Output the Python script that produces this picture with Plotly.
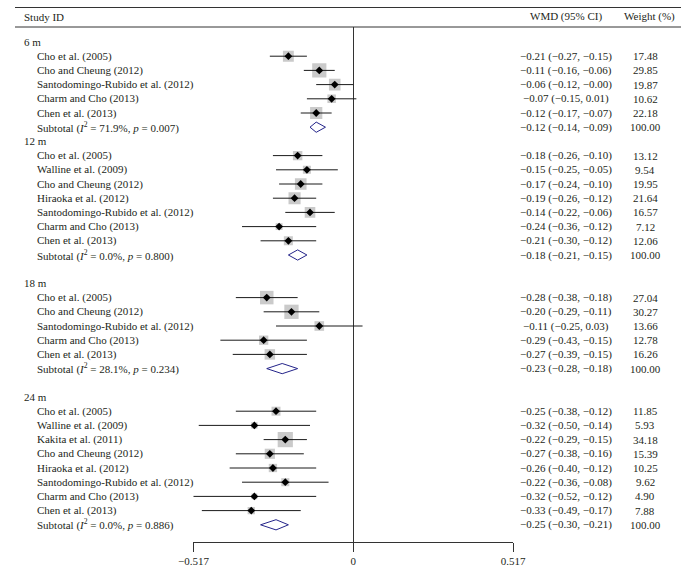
import plotly.graph_objects as go

# ---------------- data ----------------
groups = ["6 m", "12 m", "18 m", "24 m"]

studies_6m = ["Cho et al. (2005)", "Cho and Cheung (2012)", "Santodomingo-Rubido et al. (2012)",
              "Charm and Cho (2013)", "Chen et al. (2013)"]
est_6m = [-0.21, -0.11, -0.06, -0.07, -0.12]
lo_6m = [-0.27, -0.16, -0.12, -0.15, -0.17]
hi_6m = [-0.15, -0.06, -0.00, 0.01, -0.07]
wt_6m = [17.48, 29.85, 19.87, 10.62, 22.18]

studies_12m = ["Cho et al. (2005)", "Walline et al. (2009)", "Cho and Cheung (2012)", "Hiraoka et al. (2012)",
               "Santodomingo-Rubido et al. (2012)", "Charm and Cho (2013)", "Chen et al. (2013)"]
est_12m = [-0.18, -0.15, -0.17, -0.19, -0.14, -0.24, -0.21]
lo_12m = [-0.26, -0.25, -0.24, -0.26, -0.22, -0.36, -0.30]
hi_12m = [-0.10, -0.05, -0.10, -0.12, -0.06, -0.12, -0.12]
wt_12m = [13.12, 9.54, 19.95, 21.64, 16.57, 7.12, 12.06]

studies_18m = ["Cho et al. (2005)", "Cho and Cheung (2012)", "Santodomingo-Rubido et al. (2012)",
               "Charm and Cho (2013)", "Chen et al. (2013)"]
est_18m = [-0.28, -0.20, -0.11, -0.29, -0.27]
lo_18m = [-0.38, -0.29, -0.25, -0.43, -0.39]
hi_18m = [-0.18, -0.11, 0.03, -0.15, -0.15]
wt_18m = [27.04, 30.27, 13.66, 12.78, 16.26]

studies_24m = ["Cho et al. (2005)", "Walline et al. (2009)", "Kakita et al. (2011)", "Cho and Cheung (2012)",
               "Hiraoka et al. (2012)", "Santodomingo-Rubido et al. (2012)", "Charm and Cho (2013)",
               "Chen et al. (2013)"]
est_24m = [-0.25, -0.32, -0.22, -0.27, -0.26, -0.22, -0.32, -0.33]
lo_24m = [-0.38, -0.50, -0.29, -0.38, -0.40, -0.36, -0.52, -0.49]
hi_24m = [-0.12, -0.14, -0.15, -0.16, -0.12, -0.08, -0.12, -0.17]
wt_24m = [11.85, 5.93, 34.18, 15.39, 10.25, 9.62, 4.90, 7.88]

sub_i2 = ["71.9%", "0.0%", "28.1%", "0.0%"]
sub_p = ["0.007", "0.800", "0.234", "0.886"]
sub_est = [-0.12, -0.18, -0.23, -0.25]
sub_lo = [-0.14, -0.21, -0.28, -0.30]
sub_hi = [-0.09, -0.15, -0.18, -0.21]
sub_wt = [100.00, 100.00, 100.00, 100.00]

tick_vals = [-0.517, 0, 0.517]
tick_text = ["\u22120.517", "0", "0.517"]

# ---------------- layout helpers ----------------
W, H = 694, 577
FONT = "Liberation Serif, Times New Roman, serif"
TXT = "#231f20"
gap_after = [0, 1, 1, 0]

study_sets = [
    (studies_6m, est_6m, lo_6m, hi_6m, wt_6m),
    (studies_12m, est_12m, lo_12m, hi_12m, wt_12m),
    (studies_18m, est_18m, lo_18m, hi_18m, wt_18m),
    (studies_24m, est_24m, lo_24m, hi_24m, wt_24m),
]


def fmt(v):
    return f"{v:.2f}".replace("-", "\u2212")


y0_px, step_px = 42.0, 14.2
top_px, axis_px = 27.0, 542.0

rows_group = []      # (row, label)
rows_study = []      # (row, name, est, lo, hi, wt)
rows_sub = []        # (row, label, est, lo, hi, wt)
r = 0
for gi, g in enumerate(groups):
    rows_group.append((r, g))
    r += 1
    names, es, ls, hs, ws = study_sets[gi]
    for n, e, l, h, w in zip(names, es, ls, hs, ws):
        rows_study.append((r, n, e, l, h, w))
        r += 1
    lab = f"Subtotal (<i>I</i><sup>2</sup> = {sub_i2[gi]}, <i>p</i> = {sub_p[gi]})"
    rows_sub.append((r, lab, sub_est[gi], sub_lo[gi], sub_hi[gi], sub_wt[gi]))
    r += 1 + gap_after[gi]

r_top = (top_px - y0_px) / step_px
r_bot = (axis_px - y0_px) / step_px

fig = go.Figure()

# gray weight squares
fig.add_trace(go.Scatter(
    x=[s[2] for s in rows_study], y=[s[0] for s in rows_study], mode="markers",
    marker=dict(symbol="square", size=[2.6 * s[5] ** 0.5 for s in rows_study],
                color="#b3b3b3", line=dict(width=0)),
    hoverinfo="skip", showlegend=False))

# CI lines
cx, cy = [], []
for s in rows_study:
    cx += [s[3], s[4], None]
    cy += [s[0], s[0], None]
fig.add_trace(go.Scatter(x=cx, y=cy, mode="lines", line=dict(color="#1a1a1a", width=1),
                         hoverinfo="skip", showlegend=False))

# point estimates
fig.add_trace(go.Scatter(
    x=[s[2] for s in rows_study], y=[s[0] for s in rows_study], mode="markers",
    marker=dict(symbol="diamond", size=6, color="black"),
    hoverinfo="skip", showlegend=False))

# subtotal diamonds
dx, dy = [], []
hh = 0.36
for (row, lab, e, l, h, w) in rows_sub:
    dx += [l, e, h, e, l, None]
    dy += [row, row - hh, row, row + hh, row, None]
fig.add_trace(go.Scatter(x=dx, y=dy, mode="lines", line=dict(color="#24248a", width=1),
                         hoverinfo="skip", showlegend=False))

ann = []


def add_text(x_px, row, text, anchor="left"):
    ann.append(dict(x=x_px / W, xref="paper", y=row, yref="y", text=text, showarrow=False,
                    xanchor=anchor, yanchor="middle", font=dict(family=FONT, size=11, color=TXT)))


for row, g in rows_group:
    add_text(7, row, g)
for (row, n, e, l, h, w) in rows_study:
    add_text(21, row, n)
    add_text(574, row, f"{fmt(e)} ({fmt(l)}, {fmt(h)})", "center")
    add_text(657, row, f"{w:.2f}", "center")
for (row, lab, e, l, h, w) in rows_sub:
    add_text(21, row, lab)
    add_text(574, row, f"{fmt(e)} ({fmt(l)}, {fmt(h)})", "center")
    add_text(657, row, f"{w:.2f}", "center")

# headers
for x_px, t, anc in [(7, "Study ID", "left"), (574, "WMD (95% CI)", "center"), (661, "Weight (%)", "center")]:
    ann.append(dict(x=x_px / W, xref="paper", y=1 - 17 / H, yref="paper", text=t, showarrow=False,
                    xanchor=anc, yanchor="middle", font=dict(family=FONT, size=11, color=TXT)))

shapes = [
    dict(type="line", xref="paper", yref="paper", x0=0, x1=1, y0=1 - 7.5 / H, y1=1 - 7.5 / H,
         line=dict(color="#333333", width=1)),
    dict(type="line", xref="paper", yref="paper", x0=0, x1=1, y0=1 - top_px / H, y1=1 - top_px / H,
         line=dict(color="#333333", width=1)),
]

fig.update_layout(
    width=W, height=H, margin=dict(l=0, r=0, t=0, b=0),
    paper_bgcolor="white", plot_bgcolor="white",
    annotations=ann, shapes=shapes, showlegend=False, hovermode=False,
    xaxis=dict(domain=[186 / W, 519 / W], range=[-0.517, 0.517], showgrid=False,
               zeroline=True, zerolinecolor="#333333", zerolinewidth=1,
               showline=True, linecolor="#333333", linewidth=1,
               ticks="outside", ticklen=9, tickcolor="#333333", tickwidth=1,
               tickvals=tick_vals, ticktext=tick_text,
               tickfont=dict(family=FONT, size=11, color=TXT), fixedrange=True),
    yaxis=dict(domain=[1 - axis_px / H, 1 - top_px / H], range=[r_bot, r_top],
               showgrid=False, zeroline=False, showticklabels=False, showline=False,
               ticks="", fixedrange=True),
)

fig.write_html("out.html",
               config={"displayModeBar": False, "staticPlot": True},
               post_script="document.body.style.margin='0';document.body.style.padding='0';"
                           "document.body.style.overflow='hidden';")
